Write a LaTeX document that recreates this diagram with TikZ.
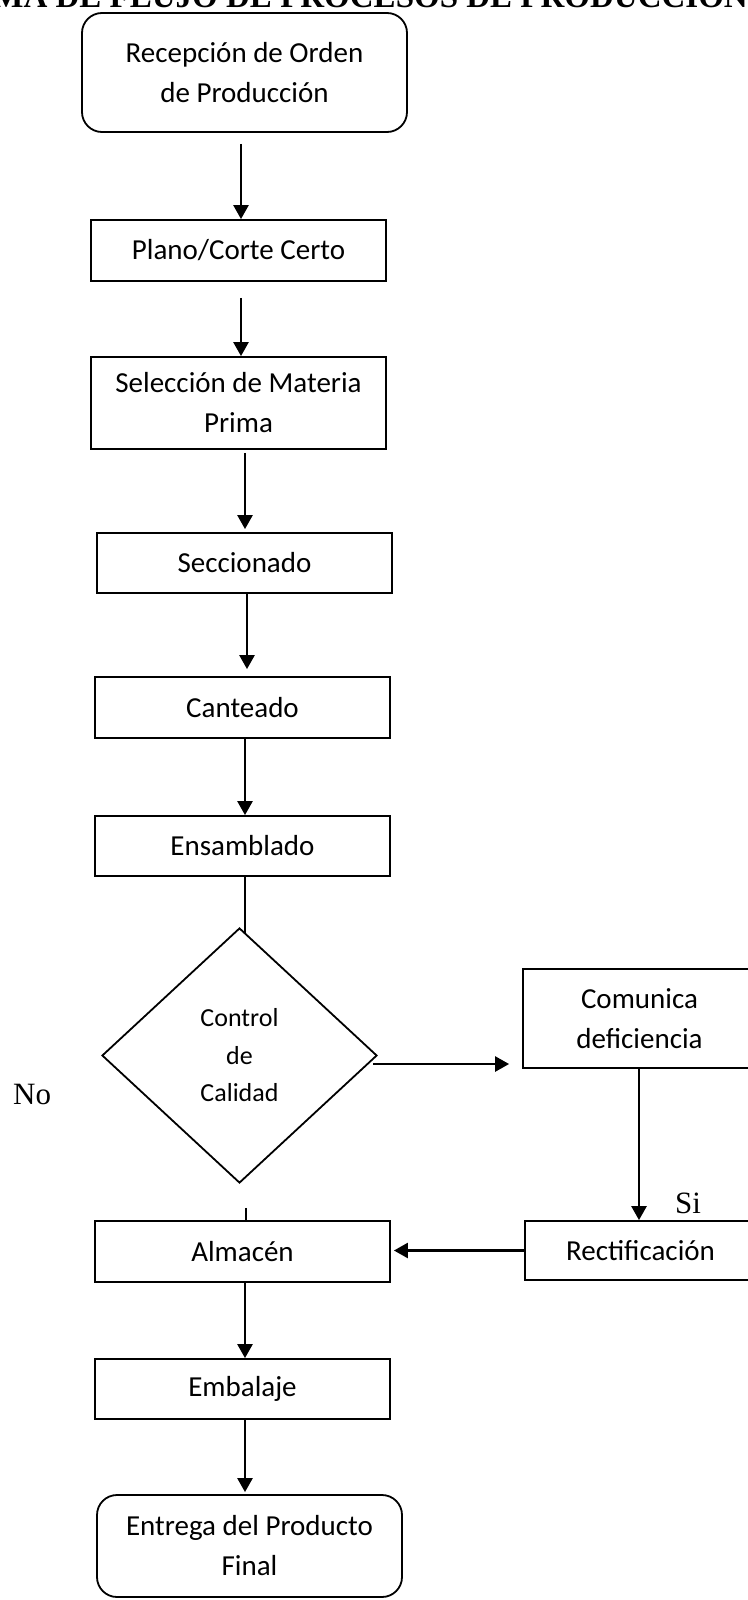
\documentclass[tikz,border=0pt]{standalone}
\usepackage{fontspec}
\setmainfont{Carlito}
\newfontfamily\timesfont{Liberation Serif}
\usetikzlibrary{arrows.meta,shapes.geometric}
\begin{document}
\begin{tikzpicture}[x=1pt,y=-1pt,
  box/.style={draw, line width=1.8pt, inner sep=0pt, align=center,
              font=\fontsize{29}{40}\selectfont},
  term/.style={box, rounded corners=20pt},
  decision/.style={draw, diamond, line width=1.8pt, inner sep=0pt, align=center,
              font=\fontsize{26}{37.5}\selectfont},
  arr/.style={line width=2.5pt, -{Triangle[length=14pt,width=15pt]}},
  link/.style={line width=2.5pt},
  lbl/.style={font=\timesfont\fontsize{31}{36}\selectfont, inner sep=0pt}]
\fill[white] (0,0) rectangle (747,1600);
\useasboundingbox (0,0) rectangle (747,1600);

% heading (runs off the top and sides of the page)
\node[anchor=base east, inner sep=0pt,
      font=\timesfont\bfseries\fontsize{33}{36}\selectfont] (title) at (748,8)
  {MA DE FLUJO DE PROCESOS DE PRODUCCIÓN};

% process steps
\node[term, minimum width=325pt, minimum height=119pt] (rec) at (244.5,72.5)
  {Recepción de Orden\\de Producción};
\node[box, minimum width=295pt, minimum height=61pt] (plano) at (238.5,250.5)
  {Plano/Corte Certo};
\node[box, minimum width=295pt, minimum height=92pt] (sel) at (238.5,403)
  {Selección de Materia\\Prima};
\node[box, minimum width=295pt, minimum height=60pt] (sec) at (244.5,563)
  {Seccionado};
\node[box, minimum width=295pt, minimum height=61pt] (cant) at (242.5,707.5)
  {Canteado};
\node[box, minimum width=295pt, minimum height=60pt] (ens) at (242.5,846)
  {Ensamblado};
\node[decision, minimum width=275pt, minimum height=255pt] (dia) at (239.5,1055.5)
  {Control\\de\\Calidad};
\node[box, minimum width=233pt, minimum height=99pt] (com) at (639.5,1018.5)
  {Comunica\\deficiencia};
\node[box, minimum width=231pt, minimum height=59pt] (rectif) at (640.5,1250.5)
  {Rectificación};
\node[box, minimum width=295pt, minimum height=61pt] (alm) at (242.5,1251.5)
  {Almacén};
\node[box, minimum width=295pt, minimum height=60pt] (emb) at (242.5,1389)
  {Embalaje};
\node[term, minimum width=305pt, minimum height=102pt] (fin) at (249.5,1546)
  {Entrega del Producto\\Final};

% branch labels
\node[lbl, anchor=base west] (no) at (13,1104) {No};
\node[lbl, anchor=base west] (si) at (675,1213) {Si};

% connector columns
\coordinate (xa) at (241,0);
\coordinate (xb) at (245,0);
\coordinate (xc) at (247,0);
\coordinate (xd) at (246,0);
\coordinate (xe) at (639,0);
\coordinate (q1) at (373,1064);

% connectors
\draw[arr, shorten <=11pt] (rec.south -| xa) -- (plano.north -| xa);
\draw[arr, shorten <=16pt] (plano.south -| xa) -- (sel.north -| xa);
\draw[arr, shorten <=3pt, shorten >=3pt] (sel.south -| xb) -- (sec.north -| xb);
\draw[arr, shorten >=7pt] (sec.south -| xc) -- (cant.north -| xc);
\draw[arr] (cant.south -| xb) -- (ens.north -| xb);
\draw[link] (ens.south -| xb) -- ([yshift=-7pt]dia.north -| xb);
\draw[link] ([yshift=-24pt]dia.south -| xd) -- (alm.north -| xd);
\draw[arr, shorten >=13pt] (q1) -- (q1 -| com.west);
\draw[arr] (com.south -| xe) -- (rectif.north -| xe);
\draw[arr, shorten >=3pt] (rectif.west) -- (rectif.west -| alm.east);
\draw[arr] (alm.south -| xb) -- (emb.north -| xb);
\draw[arr, shorten >=2pt] (emb.south -| xb) -- (fin.north -| xb);
\end{tikzpicture}
\end{document}
